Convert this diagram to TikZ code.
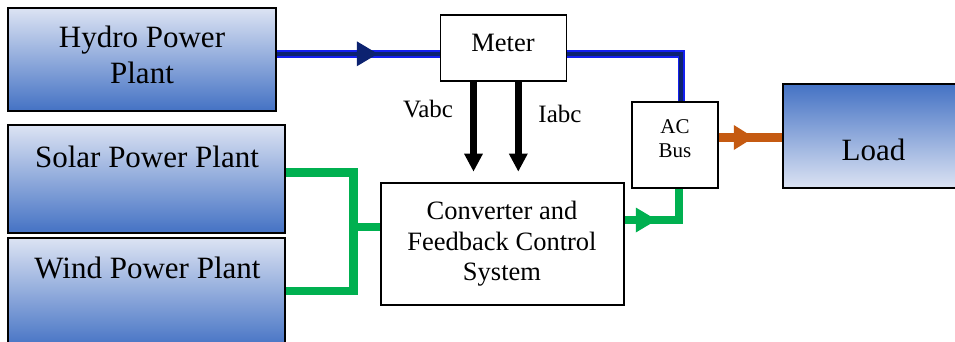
\documentclass[tikz,border=0pt]{standalone}
\usepackage{fontspec}
\setmainfont{Liberation Serif}
\usetikzlibrary{arrows.meta,decorations.markings}

\definecolor{boxlight}{HTML}{DCE3F3}
\definecolor{boxmid}{HTML}{A9BAE2}
\definecolor{boxdark}{HTML}{4472C4}
\definecolor{busblue}{HTML}{1420F0}
\definecolor{busnavy}{HTML}{0C2270}
\definecolor{greenline}{HTML}{00B050}
\definecolor{orangeline}{HTML}{C55A11}

\tikzset{
  plantbox/.style={draw=black, line width=1.6pt, rectangle, inner sep=0pt,
    top color=boxlight, middle color=boxmid, bottom color=boxdark},
  loadbox/.style={draw=black, line width=1.6pt, rectangle, inner sep=0pt,
    top color=boxdark, middle color=boxmid, bottom color=boxlight},
  plainbox/.style={draw=black, line width=1.6pt, rectangle, fill=white, inner sep=0pt},
  bigtext/.style={inner sep=0pt, font=\fontsize{31}{36}\selectfont, align=center},
  midtext/.style={inner sep=0pt, font=\fontsize{26.5}{30.5}\selectfont, align=center},
  sigtext/.style={inner sep=0pt, font=\fontsize{25}{30}\selectfont},
  smalltext/.style={inner sep=0pt, font=\fontsize{21}{24}\selectfont, align=center},
  bluebus/.style={draw=busblue, line width=1.8pt, double=busnavy, double distance=4pt, line join=miter},
  greenbus/.style={draw=greenline, line width=8.5pt, line join=miter},
  orangebus/.style={draw=orangeline, line width=8.5pt},
  sigarrow/.style={draw=black, line width=6.5pt, -{Triangle[width=17.5pt,length=18pt]}},
  flowtip/.style n args={3}{postaction={decorate}, decoration={markings,
    mark=at position #1 with {\fill[#2] (-#3,-12.5) -- (0,0) -- (-#3,12.5) -- cycle;}}}
}

\begin{document}
\begin{tikzpicture}[x=1pt, y=-1pt]
  \useasboundingbox (0,0) rectangle (955,341);

  % source blocks
  \node[plantbox, minimum width=268pt, minimum height=103pt] (hydro) at (142,59.5) {};
  \node[plantbox, minimum width=277pt, minimum height=108pt] (solar) at (146.5,179) {};
  \node[plantbox, minimum width=277pt, minimum height=110pt] (wind) at (146.5,293) {};
  \node[loadbox, minimum width=180pt, minimum height=104pt] (load) at (873,136) {};

  % measuring and conversion blocks
  \node[plainbox, minimum width=126pt, minimum height=66pt] (meter) at (503.5,48) {};
  \node[plainbox, minimum width=86pt, minimum height=86pt] (acbus) at (675,145) {};
  \node[plainbox, minimum width=243pt, minimum height=122pt] (conv) at (502.5,244) {};

  % block captions
  \node[bigtext] (hydrotxt) at (142,54.8) {Hydro Power\\Plant};
  \node[bigtext, anchor=base] (solartxt) at (147,167) {Solar Power Plant};
  \node[bigtext, anchor=base] (windtxt) at (147.5,278) {Wind Power Plant};
  \node[bigtext, anchor=base] (loadtxt) at (873.5,160) {Load};
  \node[midtext, anchor=base] (metertxt) at (503,51) {Meter};
  \node[smalltext] (acbustxt) at (675,138.4) {AC\\Bus};
  \node[midtext] (convtxt) at (502,243.7) {Converter and\\Feedback Control\\System};

  % routing points
  \coordinate (hline) at (0,53.8);
  \coordinate (bcorner) at (681.3,53.8);
  \coordinate (gtop) at (353.5,172.5);
  \coordinate (gmid) at (353.5,227);
  \coordinate (gbot) at (353.5,291);
  \coordinate (gcorner) at (679,220);
  \coordinate (oline) at (0,137.5);
  \coordinate (vx) at (473.5,0);
  \coordinate (ix) at (518.3,0);

  % hydro feed through the meter to the AC bus
  \draw[bluebus, flowtip={101pt}{busnavy}{21}] (hydro.east |- hline) -- (meter.west |- hline);
  \draw[bluebus] (meter.east |- hline) -- (bcorner) -- (acbus.north -| bcorner);

  % solar and wind feeds into the converter
  \draw[greenbus] (solar.east |- gtop) -- (gtop) -- (gbot) -- (wind.east |- gbot);
  \draw[greenbus] (gmid) -- (conv.west |- gmid);
  \draw[greenbus, flowtip={32pt}{greenline}{21}] (conv.east |- gcorner) -- (gcorner) -- (acbus.south -| gcorner);

  % AC bus to load
  \draw[orangebus, flowtip={35pt}{orangeline}{20}] (acbus.east |- oline) -- (load.west |- oline);

  % measured signals
  \draw[sigarrow, shorten >=10.5pt] (meter.south -| vx) -- (conv.north -| vx);
  \draw[sigarrow, shorten >=10.5pt] (meter.south -| ix) -- (conv.north -| ix);
  \node[sigtext, anchor=base] (vlabel) at (428,117) {Vabc};
  \node[sigtext, anchor=base] (ilabel) at (560,122) {Iabc};
\end{tikzpicture}
\end{document}
